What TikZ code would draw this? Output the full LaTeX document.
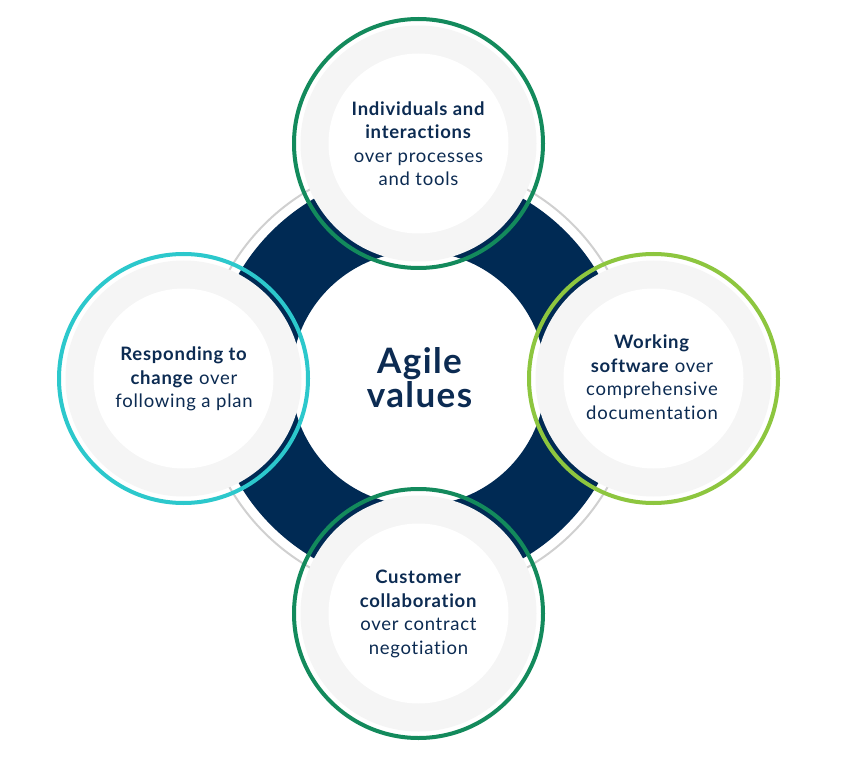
\documentclass[tikz,border=0pt]{standalone}
\usepackage{fontspec}
\setmainfont{Lato}[Ligatures={NoCommon}, LetterSpace=4]
\definecolor{navy}{HTML}{002A54}
\definecolor{txtnavy}{HTML}{0C2B52}
\definecolor{grn}{HTML}{138A5C}
\definecolor{cyn}{HTML}{2CC8CC}
\definecolor{lim}{HTML}{8DC63F}
\definecolor{ringgray}{HTML}{F5F5F5}
\definecolor{arcgray}{HTML}{D0D0D0}
\tikzset{
  sattext/.style={text=txtnavy, align=center, inner sep=0pt, font=\fontsize{18.5}{23.5}\selectfont},
  centertext/.style={text=txtnavy, align=center, inner sep=0pt, font=\fontsize{35}{34}\selectfont\bfseries},
  satring/.style={line width=4pt}
}
\begin{document}
\begin{tikzpicture}[x=1pt,y=-1pt]
\useasboundingbox (0,0) rectangle (841,762);
\fill[white] (0,0) rectangle (841,762);
\coordinate (C) at (418.5,378.5);
\coordinate (T) at (418.5,143.5);
\coordinate (B) at (418.5,613.5);
\coordinate (L) at (183.5,378.5);
\coordinate (R) at (653.5,378.5);
% thin gray arc and dark ring
\draw[arcgray, line width=2pt] (C) circle[radius=218pt];
\fill[navy, even odd rule] (C) circle[radius=208pt] (C) circle[radius=127pt];
% satellites
\foreach \p/\c in {T/grn, L/cyn, R/lim, B/grn} {
  \fill[ringgray] (\p) circle[radius=118pt];
  \fill[white] (\p) circle[radius=90pt];
  \draw[\c, satring] (\p) circle[radius=124.5pt];
}
% texts
\node[centertext] (agile) at (419.5,377.5) {Agile\\values};
\node[sattext] (indiv) at (418.5,143.5) {\textbf{Individuals and}\\\textbf{interactions}\\over processes\\and tools};
\node[sattext] (resp) at (184,379) {\textbf{Responding to}\\\textbf{change} over\\following a plan};
\node[sattext] (work) at (652,377) {\textbf{Working}\\\textbf{software} over\\comprehensive\\documentation};
\node[sattext] (cust) at (418.5,614) {\textbf{Customer}\\\textbf{collaboration}\\over contract\\negotiation};
\end{tikzpicture}
\end{document}
